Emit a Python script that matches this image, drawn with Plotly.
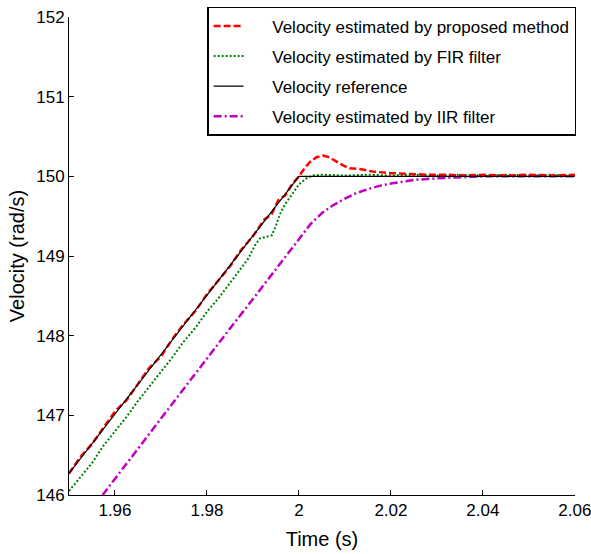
import plotly.graph_objects as go

# ---- data ----
t_ref = [1.95, 2.0, 2.06]
v_ref = [146.27, 150.0, 150.0]

t_prop = [1.95, 1.9525, 1.955, 1.9575, 1.96, 1.9625, 1.965, 1.9675, 1.97, 1.9725,
          1.975, 1.9775, 1.98, 1.9825, 1.985, 1.9875, 1.99, 1.9925, 1.994, 1.9955,
          1.997, 1.9985, 2.0, 2.0012, 2.0024, 2.0038, 2.0052, 2.0066, 2.008, 2.0095,
          2.011, 2.0135, 2.016, 2.018, 2.02, 2.024, 2.028, 2.032, 2.036, 2.04,
          2.045, 2.05, 2.055, 2.06]
v_prop = [146.27, 146.48, 146.64, 146.85, 147.05, 147.19, 147.40, 147.60, 147.74, 147.96,
          148.15, 148.31, 148.52, 148.70, 148.87, 149.08, 149.25, 149.46, 149.52, 149.70,
          149.76, 149.90, 150.00, 150.10, 150.18, 150.24, 150.26, 150.24, 150.19, 150.14,
          150.10, 150.09, 150.06, 150.05, 150.04, 150.03, 150.02, 150.02, 150.01, 150.02,
          150.01, 150.02, 150.01, 150.02]

t_fir = [1.95, 1.9525, 1.955, 1.9575, 1.96, 1.9625, 1.965, 1.9675, 1.97, 1.9725,
         1.975, 1.9775, 1.98, 1.9825, 1.985, 1.9875, 1.989, 1.9905, 1.9915, 1.9928,
         1.9941, 1.995, 1.9959, 1.997, 1.9987, 2.0, 2.0015, 2.003, 2.005, 2.01,
         2.015, 2.02, 2.025, 2.03, 2.035, 2.04, 2.045, 2.05, 2.055, 2.06]
v_fir = [146.05, 146.22, 146.40, 146.62, 146.80, 146.98, 147.18, 147.36, 147.55, 147.73,
         147.93, 148.10, 148.30, 148.47, 148.66, 148.86, 148.97, 149.14, 149.22, 149.24,
         149.26, 149.38, 149.53, 149.65, 149.79, 149.90, 149.97, 150.01, 150.02, 150.01,
         150.02, 150.01, 150.02, 150.01, 150.02, 150.01, 150.02, 150.01, 150.02, 150.01]

t_iir = [1.9573, 1.96, 1.965, 1.97, 1.975, 1.98, 1.985, 1.99, 1.995, 2.0,
         2.0025, 2.005, 2.0075, 2.01, 2.0125, 2.015, 2.0175, 2.02, 2.0225, 2.025,
         2.03, 2.035, 2.04, 2.05, 2.06]
v_iir = [146.00, 146.20, 146.58, 146.96, 147.34, 147.72, 148.09, 148.46, 148.84, 149.22,
         149.40, 149.54, 149.64, 149.72, 149.79, 149.84, 149.88, 149.91, 149.935, 149.955,
         149.975, 149.99, 150.0, 150.0, 150.0]

x_ticks = [1.96, 1.98, 2.0, 2.02, 2.04, 2.06]
x_tick_text = ["1.96", "1.98", "2", "2.02", "2.04", "2.06"]
y_ticks = [146, 147, 148, 149, 150, 151, 152]

names = ["Velocity estimated by proposed method", "Velocity estimated by FIR filter",
         "Velocity reference", "Velocity estimated by IIR filter"]

FONT = "Liberation Sans, Arial, sans-serif"
PAD = "\u00a0" * 5  # pushes legend text right, as in the reference's longer key lines

fig = go.Figure()
fig.add_trace(go.Scatter(x=t_iir, y=v_iir, mode="lines", name=PAD + names[3],
                         line=dict(color="#c000c0", width=2.5, dash="8px,3px,2px,3px"),
                         legendgroup="d", legendrank=4))
fig.add_trace(go.Scatter(x=t_fir, y=v_fir, mode="lines", name=PAD + names[1],
                         line=dict(color="#008000", width=2, dash="2px,2px"),
                         legendgroup="b", legendrank=2))
fig.add_trace(go.Scatter(x=t_prop, y=v_prop, mode="lines", name=PAD + names[0],
                         line=dict(color="#ff0000", width=2.5, dash="7px,3px"),
                         legendgroup="a", legendrank=1))
fig.add_trace(go.Scatter(x=t_ref, y=v_ref, mode="lines", name=PAD + names[2],
                         line=dict(color="#000000", width=1.2),
                         legendgroup="c", legendrank=3))

fig.update_layout(
    width=591, height=554,
    margin=dict(l=69, r=16, t=17, b=59, autoexpand=False),
    paper_bgcolor="white", plot_bgcolor="white",
    font=dict(family=FONT, size=17, color="black"),
    showlegend=True,
    legend=dict(x=0.273, y=1.021, xanchor="left", yanchor="top",
                bordercolor="black", borderwidth=1.5, bgcolor="white",
                font=dict(family=FONT, size=17, color="black"),
                traceorder="grouped", tracegroupgap=5),
    xaxis=dict(range=[1.95, 2.06002], tickvals=x_ticks, ticktext=x_tick_text,
               ticks="inside", ticklen=5, tickcolor="black", showline=True,
               linecolor="black", linewidth=1, showgrid=False, zeroline=False,
               automargin=False, ticklabeloverflow="allow",
               title=dict(text="Time (s)", standoff=12), mirror=False),
    yaxis=dict(range=[146, 152.0001], tickvals=y_ticks, ticks="inside", ticklen=5,
               tickcolor="black", showline=True, linecolor="black", linewidth=1,
               showgrid=False, zeroline=False, automargin=False,
               ticklabeloverflow="allow",
               title=dict(text="Velocity (rad/s)", standoff=6), mirror=False),
)

page_css = ("document.documentElement.style.margin='0';"
            "document.documentElement.style.overflow='hidden';"
            "document.body.style.margin='0';"
            "document.body.style.overflow='hidden';")

fig.write_html("out.html", post_script=page_css, config={"displayModeBar": False})
